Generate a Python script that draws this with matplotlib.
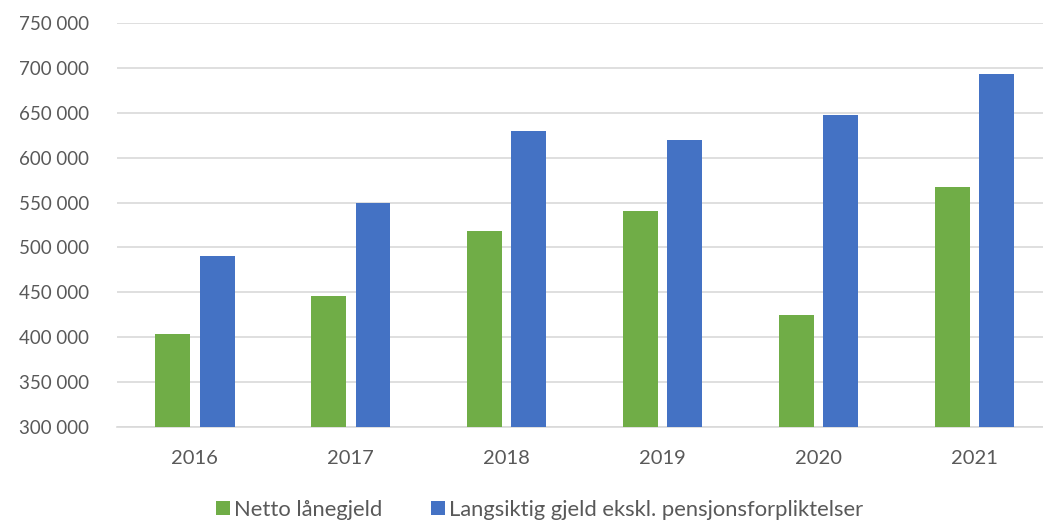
import matplotlib.pyplot as plt
import numpy as np

plt.rcParams['font.family'] = ['Lato', 'DejaVu Sans']

years = ['2016', '2017', '2018', '2019', '2020', '2021']
netto_lanegjeld = [404000, 446000, 518000, 541000, 425000, 568000]
langsiktig_gjeld = [491000, 550000, 630000, 620000, 648000, 693500]
y_ticks = [300000, 350000, 400000, 450000, 500000, 550000, 600000, 650000, 700000, 750000]

fig = plt.figure(figsize=(10.43, 5.21), dpi=100)
# right edge runs past the figure, gridlines are clipped like in the original
ax = fig.add_axes([0.112, 0.181, 0.897, 0.774])

x = np.arange(len(years))
w = 0.224
ax.bar(x - 0.142, netto_lanegjeld, w, color='#70AD47', label='Netto lånegjeld', zorder=3)
ax.bar(x + 0.143, langsiktig_gjeld, w, color='#4472C4',
       label='Langsiktig gjeld ekskl. pensjonsforpliktelser', zorder=3)

ax.set_xlim(-0.5, len(years) - 0.5)
ax.set_ylim(300000, 750000)
ax.set_yticks(y_ticks)
ax.set_yticklabels([f'{v:,}'.replace(',', ' ') for v in y_ticks])
ax.set_xticks(x)
ax.set_xticklabels(years)

ax.grid(axis='y', color='#d9d9d9', linewidth=1.2, zorder=0)
for s in ['top', 'right', 'left']:
    ax.spines[s].set_visible(False)
ax.spines['bottom'].set_color('#d9d9d9')
ax.spines['bottom'].set_linewidth(1.2)
ax.tick_params(axis='y', length=0, labelsize=13.5, colors='#595959', pad=20)
ax.tick_params(axis='x', length=0, labelsize=14.5, colors='#595959', pad=17)

leg = ax.legend(loc='upper center', bbox_to_anchor=(0.452, -0.133), ncol=2, frameon=False,
                fontsize=15.8, handlelength=0.62, handleheight=0.62, handletextpad=0.22,
                columnspacing=2.2, labelcolor='#595959')

fig.savefig('out.png', dpi=100)
